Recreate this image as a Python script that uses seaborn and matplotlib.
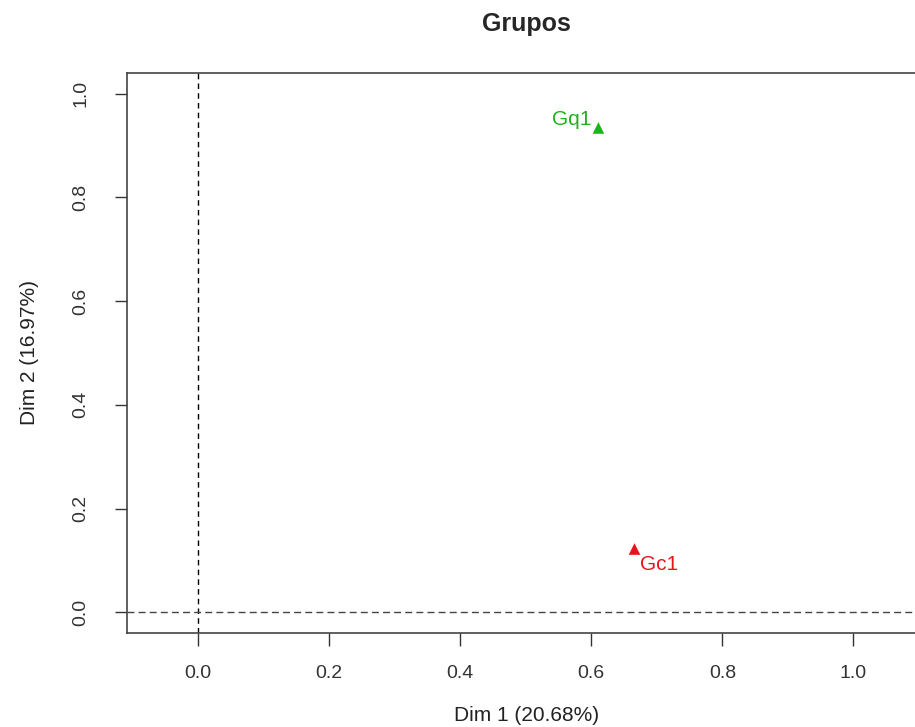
import numpy as np
import pandas as pd
import matplotlib
matplotlib.use("Agg")
import matplotlib.pyplot as plt
import seaborn as sns

sns.set_style("ticks")
plt.rcParams['font.family'] = ['Liberation Sans', 'DejaVu Sans']

# data
grupos = ["Gq1", "Gc1"]
dim1 = [0.611, 0.666]
dim2 = [0.934, 0.122]
colores = {"Gq1": "#1DB31D", "Gc1": "#E8141B"}

df = pd.DataFrame({"grupo": grupos, "dim1": dim1, "dim2": dim2})

fig = plt.figure(figsize=(9.15, 7.27), dpi=100)
ax = fig.add_axes([0.1388, 0.1293, 0.8728, 0.7703])

sns.scatterplot(data=df, x="dim1", y="dim2", hue="grupo", palette=colores,
                marker="^", s=70, edgecolor="none", legend=False, ax=ax)

# labels next to points (R-style text placement)
offsets = {"Gq1": (-0.011, 0.016, "right"), "Gc1": (0.009, -0.029, "left")}
for g, x, y in zip(grupos, dim1, dim2):
    dx, dy, ha = offsets[g]
    ax.text(x + dx, y + dy, g, color=colores[g], fontsize=15, ha=ha, va="center")

ax.axvline(0, color="black", linestyle=(0, (4, 3)), linewidth=1)
ax.axhline(0, color="#444444", linestyle=(0, (5, 3)), linewidth=1)

ax.set_xlim(-0.108, 1.11)
ax.set_ylim(-0.04, 1.04)
ticks = np.arange(0, 1.01, 0.2)
ax.set_xticks(ticks)
ax.set_yticks(ticks)
ax.set_xticklabels([f"{v:.1f}" for v in ticks], fontsize=14)
ax.set_yticklabels([f"{v:.1f}" for v in ticks], fontsize=14,
                   rotation=90, va="center")
ax.tick_params(direction="out", length=9, width=1, colors="#333333")
ax.tick_params(axis="x", pad=14)
ax.tick_params(axis="y", pad=18)

for sp in ax.spines.values():
    sp.set_color("#444444")
    sp.set_linewidth(1.2)

ax.set_xlabel("Dim 1 (20.68%)", fontsize=15, labelpad=17, color="#222222")
ax.set_ylabel("Dim 2 (16.97%)", fontsize=15, labelpad=24, color="#222222")
ax.set_title("Grupos", fontsize=18, fontweight="bold", pad=30)

fig.savefig("out.png", dpi=100)
